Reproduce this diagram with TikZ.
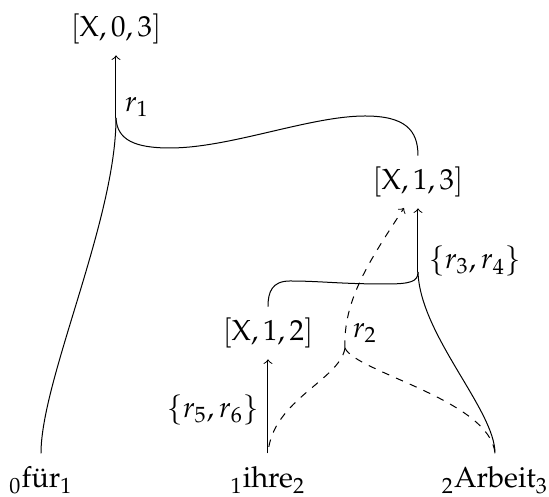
\documentclass[tikz,border=0pt]{standalone}
\usepackage[T1]{fontenc}
\usepackage{mathpazo}
\usepackage{amsmath}
\usetikzlibrary{calc}
\tikzset{
  every node/.style={font=\fontsize{11.6}{14}\selectfont},
  cat/.style={inner sep=1pt, outer sep=3.5pt},
  word/.style={inner sep=0pt, outer sep=5.5pt, anchor=base},
  hedge/.style={line width=0.4pt},
  dedge/.style={line width=0.4pt, dashed},
  rlab/.style={inner sep=1pt},
}

\begin{document}
\begin{tikzpicture}[x=0.4pt,y=-0.4pt]
  \useasboundingbox (0,0) rectangle (549,497);
  % items of the chart
  \node[cat] (X03) at (116,29)  {$[\mathrm{X},0,3]$};
  \node[cat] (X13) at (418,182) {$[\mathrm{X},1,3]$};
  \node[cat] (X12) at (268,333) {$[\mathrm{X},1,2]$};
  % words with positions
  \node[word] (fuer)   at (41,488)  {$_0$f\"ur$_1$};
  \node[word] (ihre)   at (268,488) {$_1$ihre$_2$};
  \node[word] (arbeit) at (495,488) {$_2$Arbeit$_3$};
  % hyperedge r1
  \coordinate (j1) at (116,118);
  \draw[hedge,->] (j1) -- (X03.south);
  \draw[hedge] (fuer.north) .. controls (41,380) and (116,220) .. (j1);
  \draw[hedge] (j1) .. controls (117,140) and (135,148) .. (170,148)
    .. controls (230,148) and (310,116) .. (365,116)
    .. controls (405,116) and (418,130) .. (X13.north);
  \node[rlab] (r1) at (137,107) {$r_1$};
  % hyperedge {r3,r4}
  \coordinate (j2) at (418,272);
  \draw[hedge,->] (j2) -- (X13.south);
  \draw[hedge] (j2) .. controls (418,282) and (410,284) .. (385,284)
    .. controls (340,284) and (320,281) .. (290,281)
    .. controls (272,281) and (268,292) .. (X12.north);
  \draw[hedge] (arbeit.north) .. controls (495,410) and (420,335) .. (j2);
  \node[rlab] (r34) at (475,261) {$\{r_3,r_4\}$};
  % hyperedge r2 (dashed)
  \coordinate (j3) at (345,348);
  \coordinate (t2) at (404,208);
  \draw[dedge,->] (j3) .. controls (343,300) and (370,260) .. (t2);
  \draw[dedge] (j3) .. controls (340,380) and (272,400) .. (ihre.north);
  \draw[dedge] (j3) .. controls (355,372) and (490,400) .. (arbeit.north);
  \node[rlab] (r2) at (365,333) {$r_2$};
  % hyperedge {r5,r6}
  \draw[hedge,->] (ihre.north) -- (X12.south);
  \node[rlab] (r56) at (213,410) {$\{r_5,r_6\}$};
\end{tikzpicture}
\end{document}
